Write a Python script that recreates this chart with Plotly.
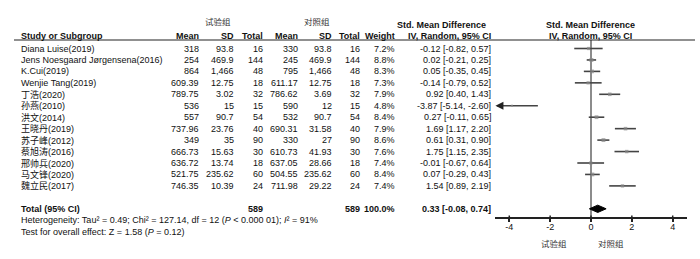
import plotly.graph_objects as go

studies = ["Diana Luise(2019)", "Jens Noesgaard Jørgensena(2016)", "K.Cui(2019)", "Wenjie Tang(2019)",
           "丁浩(2020)", "孙燕(2010)", "洪文(2014)", "王晓丹(2019)", "苏子峰(2012)", "蔡旭涛(2016)",
           "邢帅兵(2020)", "马文锋(2020)", "魏立民(2017)"]
exp_mean = [318, 254, 864, 609.39, 789.75, 536, 557, 737.96, 349, 666.73, 636.72, 521.75, 746.35]
exp_sd = [93.8, 469.9, 1466, 12.75, 3.02, 15, 90.7, 23.76, 35, 15.63, 13.74, 235.62, 10.39]
exp_n = [16, 144, 48, 18, 32, 15, 54, 40, 90, 30, 18, 60, 24]
ctl_mean = [330, 245, 795, 611.17, 786.62, 590, 532, 690.31, 330, 610.73, 637.05, 504.55, 711.98]
ctl_sd = [93.8, 469.9, 1466, 12.75, 3.69, 12, 90.7, 31.58, 27, 41.93, 28.66, 235.62, 29.22]
ctl_n = [16, 144, 48, 18, 32, 15, 54, 40, 90, 30, 18, 60, 24]
weight = [7.2, 8.8, 8.3, 7.3, 7.9, 4.8, 8.4, 7.9, 8.6, 7.6, 7.4, 8.4, 7.4]
smd = [-0.12, 0.02, 0.05, -0.14, 0.92, -3.87, 0.27, 1.69, 0.61, 1.75, -0.01, 0.07, 1.54]
ci_lo = [-0.82, -0.21, -0.35, -0.79, 0.40, -5.14, -0.11, 1.17, 0.31, 1.15, -0.67, -0.29, 0.89]
ci_hi = [0.57, 0.25, 0.45, 0.52, 1.43, -2.60, 0.65, 2.20, 0.90, 2.35, 0.64, 0.43, 2.19]
total_exp, total_ctl, total_w = 589, 589, 100.0
total_smd, total_lo, total_hi = 0.33, -0.08, 0.74
axis_ticks = [-4, -2, 0, 2, 4]
het_text = "Heterogeneity: Tau² = 0.49; Chi² = 127.14, df = 12 (<i>P</i> &lt; 0.000 01); <i>I</i>² = 91%"
test_text = "Test for overall effect: Z = 1.58 (<i>P</i> = 0.12)"

W, H = 700, 259
XMIN, XMAX = -4.7, 4.7
row0_px, row_step = 48.5, 11.45
def px2row(p):
    return (p - row0_px) / row_step

FONT = "Liberation Sans, Arial, Noto Sans CJK SC, sans-serif"
CJK = "Noto Sans CJK SC, sans-serif"
FS = 9

fig = go.Figure()
ann = []

def txt(xpx, row, s, anchor="right", bold=False, font=FONT, size=FS, color="#111"):
    if bold:
        s = "<b>" + s + "</b>"
    ann.append(dict(x=xpx / W, xref="paper", y=row, yref="y", text=s, showarrow=False,
                    xanchor=anchor, yanchor="middle", font=dict(family=font, size=size, color=color),
                    borderpad=0, borderwidth=0))

def fmt(v):
    if isinstance(v, int) or float(v).is_integer():
        return f"{int(v):,}"
    return f"{v:,}"

cols = dict(em=199.5, es=233.5, en=262.5, cm=298, cs=331.5, cn=359.5, w=395.5, ci=490.5)

# headers
txt(217.5, px2row(21), "试验组", anchor="center", font=CJK, size=8.5, color="#333")
txt(317, px2row(21), "对照组", anchor="center", font=CJK, size=8.5, color="#333")
txt(441, px2row(25), "Std. Mean Difference", anchor="center", bold=True)
txt(590, px2row(25), "Std. Mean Difference", anchor="center", bold=True)
hrow = px2row(35.5)
txt(21, hrow, "Study or Subgroup", anchor="left", bold=True)
for key, lab in [("em", "Mean"), ("es", "SD"), ("en", "Total"), ("cm", "Mean"), ("cs", "SD"),
                 ("cn", "Total"), ("w", "Weight"), ("ci", "IV, Random, 95% CI")]:
    txt(cols[key], hrow, lab, bold=True)
txt(590, hrow, "IV, Random, 95% CI", anchor="center", bold=True)

for i, name in enumerate(studies):
    txt(21, i, name, anchor="left")
    txt(cols["em"], i, fmt(exp_mean[i]))
    txt(cols["es"], i, fmt(exp_sd[i]))
    txt(cols["en"], i, fmt(exp_n[i]))
    txt(cols["cm"], i, fmt(ctl_mean[i]))
    txt(cols["cs"], i, fmt(ctl_sd[i]))
    txt(cols["cn"], i, fmt(ctl_n[i]))
    txt(cols["w"], i, f"{weight[i]:.1f}%")
    txt(cols["ci"], i, f"{smd[i]:.2f} [{ci_lo[i]:.2f}, {ci_hi[i]:.2f}]")

trow = len(studies) + 1
txt(21, trow, "Total (95% CI)", anchor="left", bold=True)
txt(cols["en"], trow, str(total_exp), bold=True)
txt(cols["cn"], trow, str(total_ctl), bold=True)
txt(cols["w"], trow, f"{total_w:.1f}%", bold=True)
txt(cols["ci"], trow, f"{total_smd:.2f} [{total_lo:.2f}, {total_hi:.2f}]", bold=True)
txt(21, trow + 1, het_text, anchor="left")
txt(21, trow + 2, test_text, anchor="left")

txt(553.5, px2row(242.5), "试验组", anchor="center", font=CJK, size=8.5, color="#333")
txt(611, px2row(242.5), "对照组", anchor="center", font=CJK, size=8.5, color="#333")

# CI lines
for i in range(len(studies)):
    lo = max(ci_lo[i], XMIN + 0.12)
    hi = min(ci_hi[i], XMAX)
    fig.add_trace(go.Scatter(x=[lo, hi], y=[i, i], mode="lines",
                             line=dict(color="#444", width=1.6), hoverinfo="skip", showlegend=False))
    if ci_lo[i] < XMIN:
        ann.append(dict(x=XMIN + 0.02, y=i, xref="x", yref="y", ax=XMIN + 0.45, ay=i,
                        axref="x", ayref="y", text="", showarrow=True, arrowhead=2,
                        arrowsize=1, arrowwidth=1.6, arrowcolor="#222"))

fig.add_trace(go.Scatter(x=smd, y=list(range(len(studies))), mode="markers",
                         marker=dict(symbol="square", size=[w * 0.45 for w in weight], color="#888",
                                     line=dict(width=0)),
                         hoverinfo="skip", showlegend=False))

# diamond
dh = 0.32
fig.add_trace(go.Scatter(x=[total_lo, total_smd, total_hi, total_smd, total_lo],
                         y=[trow, trow - dh, trow, trow + dh, trow], mode="lines", fill="toself",
                         fillcolor="#000", line=dict(color="#000", width=1),
                         hoverinfo="skip", showlegend=False))

axis_row = px2row(218.3)
shapes = [
    dict(type="line", xref="x", yref="y", x0=0, x1=0, y0=px2row(40), y1=axis_row,
         line=dict(color="#666", width=1.5), layer="below"),
    dict(type="line", xref="paper", yref="y", x0=14 / W, x1=695 / W, y0=px2row(40), y1=px2row(40),
         line=dict(color="#222", width=1.2)),
]
# upper half of crossing tick marks
for t in axis_ticks:
    shapes.append(dict(type="line", xref="x", yref="y", x0=t, x1=t,
                       y0=axis_row, y1=px2row(215.5), line=dict(color="#222", width=1.5)))

fig.update_layout(
    width=W, height=H, margin=dict(l=0, r=0, t=0, b=0),
    paper_bgcolor="white", plot_bgcolor="white",
    xaxis=dict(domain=[495 / W, 687 / W], range=[XMIN, XMAX], anchor="free",
               position=(H - 218.3) / H, showline=True, linecolor="#222", linewidth=1.5,
               ticks="outside", ticklen=3, tickwidth=1.5, tickcolor="#222",
               tickvals=axis_ticks, ticktext=[str(t) for t in axis_ticks],
               showgrid=False, zeroline=False, ticklabelstandoff=-3,
               tickfont=dict(family=FONT, size=9, color="#111")),
    yaxis=dict(domain=[0, 1], range=[px2row(H), px2row(0)], visible=False),
    annotations=ann, shapes=shapes,
)

fig.write_html("out.html")
